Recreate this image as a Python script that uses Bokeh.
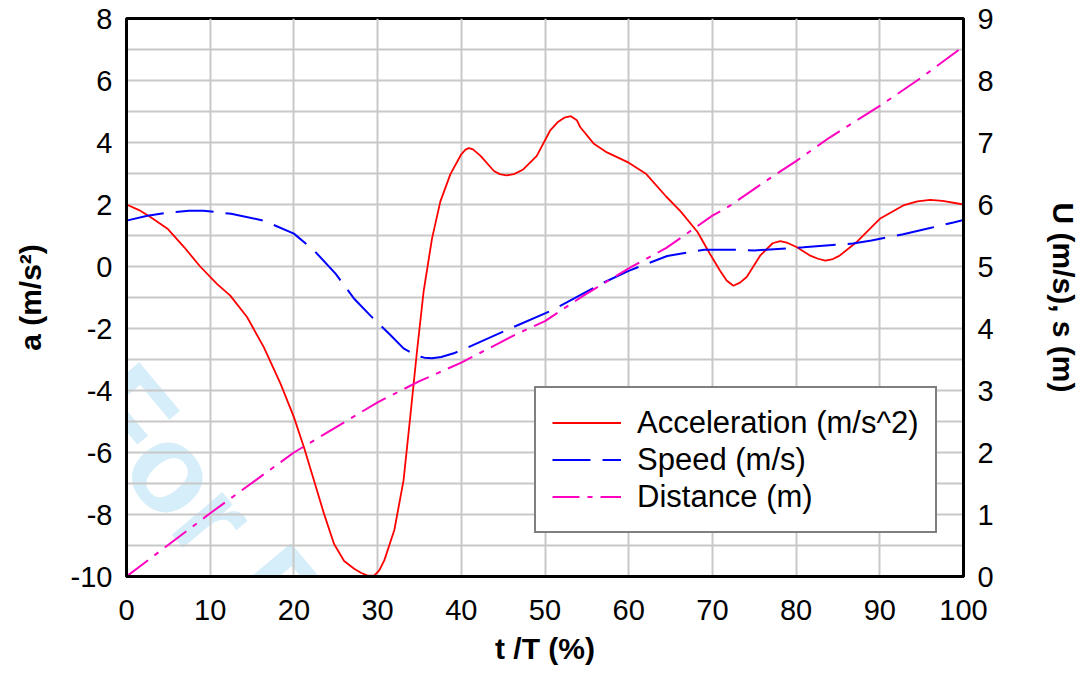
from bokeh.plotting import figure
from bokeh.models import (Range1d, LinearAxis, FixedTicker, Legend, LegendItem, Label,
                          PrintfTickFormatter)
from bokeh.embed import file_html
from bokeh.resources import INLINE

# ---- data ----
t_acc = [0, 1.5, 2.9, 4.9, 6.9, 8.8, 10.8, 12.4, 14.4, 16.4, 18.4, 20.0, 21.2, 22.4, 23.6,
         24.8, 26.0, 27.2, 28.0, 28.8, 29.6, 30.2, 30.8, 32.0, 33.1, 33.9, 34.7, 35.5, 36.5,
         37.5, 38.7, 40.0, 40.5, 40.9, 41.4, 42.3, 43.9, 44.6, 45.4, 46.3, 47.4, 49.0, 50.6,
         51.5, 52.3, 53.1, 53.8, 54.2, 55.8, 57.4, 60.0, 62.1, 64.5, 66.2, 68.2, 69.7, 70.9,
         71.7, 72.5, 73.3, 74.1, 75.7, 77.2, 78.1, 79.0, 80.1, 81.7, 82.6, 83.5, 84.4, 85.2,
         87.2, 90.0, 92.8, 94.5, 96.0, 97.5, 100]
acc = [2.0, 1.82, 1.59, 1.22, 0.62, 0.0, -0.56, -0.94, -1.63, -2.6, -3.78, -4.86, -5.83,
       -6.9, -7.98, -8.95, -9.5, -9.75, -9.88, -9.97, -9.97, -9.8, -9.48, -8.5, -6.9, -4.85,
       -2.75, -0.8, 0.9, 2.1, 2.98, 3.62, 3.77, 3.82, 3.78, 3.57, 3.08, 2.98, 2.94, 2.98,
       3.13, 3.56, 4.38, 4.65, 4.8, 4.85, 4.72, 4.5, 3.97, 3.68, 3.35, 2.98, 2.25, 1.78, 1.12,
       0.41, -0.13, -0.45, -0.62, -0.52, -0.34, 0.35, 0.75, 0.82, 0.76, 0.62, 0.35, 0.25, 0.19,
       0.24, 0.35, 0.78, 1.54, 1.97, 2.1, 2.15, 2.12, 2.0]

t_spd = [0, 2.5, 5, 7.5, 9.2, 12.5, 16.4, 20, 22.4, 25, 27.2, 29.2, 31.5, 33.1, 34.7, 35.6,
         36.5, 37.6, 39.1, 40.7, 45.0, 50.6, 52.6, 57.0, 60.0, 64.6, 69.0, 72.5, 75.0, 80.9,
         86.8, 89.0, 92.8, 96.0, 98.8, 100]
spd = [5.74, 5.82, 5.87, 5.9, 5.9, 5.85, 5.74, 5.53, 5.26, 4.88, 4.48, 4.2, 3.9, 3.68, 3.56,
       3.53, 3.52, 3.54, 3.6, 3.69, 3.95, 4.28, 4.42, 4.74, 4.93, 5.17, 5.27, 5.27, 5.26, 5.31,
       5.37, 5.42, 5.52, 5.62, 5.71, 5.75]

t_dist = [0, 10, 20, 30, 35, 40, 46.6, 50, 54.6, 60, 64.5, 70, 72.1, 76.5, 80, 84, 90, 95, 100]
dist = [0, 1.02, 2.0, 2.81, 3.15, 3.45, 3.91, 4.12, 4.53, 4.97, 5.3, 5.82, 5.98, 6.39, 6.70,
        7.08, 7.59, 8.05, 8.55]

x_ticks = list(range(0, 101, 10))
y_left_ticks = list(range(-10, 9, 2))
y_grid_ticks = list(range(-10, 9))
y_right_ticks = list(range(0, 10))

labels = ["Acceleration (m/s^2)", "Speed (m/s)", "Distance (m)"]
watermark = "For Peer Review"

FONT = "Liberation Sans"

p = figure(frame_width=837, frame_height=558,
           min_border_left=126, min_border_right=122, min_border_top=18, min_border_bottom=95,
           x_range=Range1d(0, 100), y_range=Range1d(-10, 8),
           output_backend="svg", toolbar_location=None)
p.extra_y_ranges = {"r": Range1d(0, 9)}
p.background_fill_color = "white"
p.border_fill_color = "white"
p.outline_line_color = "black"
p.outline_line_width = 3

# watermark underneath everything (rotated about its own centre)
wm = Label(x=34.35, y=-15.78, text=watermark, angle=-50, angle_units="deg",
           text_font=FONT, text_font_size="125px", text_font_style="bold",
           text_color="#d6eefa", text_align="center", text_baseline="middle",
           level="image")
p.add_layout(wm)

# axes
p.xaxis.ticker = FixedTicker(ticks=x_ticks)
p.yaxis.ticker = FixedTicker(ticks=y_left_ticks)
p.xgrid.ticker = FixedTicker(ticks=x_ticks)
p.ygrid.ticker = FixedTicker(ticks=y_grid_ticks)
for g in (p.xgrid, p.ygrid):
    g.grid_line_color = "#c8c8c8"
    g.grid_line_width = 2

ra = LinearAxis(y_range_name="r", ticker=FixedTicker(ticks=y_right_ticks))
p.add_layout(ra, "right")

p.xaxis.axis_label = "t /T (%)"
p.yaxis.axis_label = "a (m/s²)"
ra.axis_label = "U (m/s), s (m)"

for ax in (p.xaxis[0], p.yaxis[0], ra):
    ax.formatter = PrintfTickFormatter(format="%d")
    ax.axis_line_color = "black"
    ax.axis_line_width = 3
    ax.major_tick_in = 0
    ax.major_tick_out = 0
    ax.minor_tick_in = 0
    ax.minor_tick_out = 0
    ax.major_label_text_font = FONT
    ax.major_label_text_font_size = "29px"
    ax.major_label_text_color = "black"
    ax.axis_label_text_font = FONT
    ax.axis_label_text_font_size = "30px"
    ax.axis_label_text_font_style = "bold"
    ax.axis_label_text_color = "black"
    ax.major_label_standoff = 14

p.xaxis[0].major_label_standoff = 23
p.xaxis[0].axis_label_standoff = 9
p.yaxis[0].axis_label_standoff = 21
ra.axis_label_standoff = 50

r1 = p.line(t_acc, acc, line_color="#ff0000", line_width=1.8)
r2 = p.line(t_spd, spd, y_range_name="r", line_color="#0000ff", line_width=2,
            line_dash="38 12")
r3 = p.line(t_dist, dist, y_range_name="r", line_color="#ff00c0", line_width=2,
            line_dash="27 8 5 8")

legend = Legend(items=[LegendItem(label=labels[0], renderers=[r1]),
                       LegendItem(label=labels[1], renderers=[r2]),
                       LegendItem(label=labels[2], renderers=[r3])],
                location=(408, 43))
legend.border_line_color = "black"
legend.border_line_width = 2.5
legend.background_fill_color = "white"
legend.background_fill_alpha = 1
legend.label_text_font = FONT
legend.label_text_font_size = "31px"
legend.label_text_color = "black"
legend.glyph_width = 69
legend.glyph_height = 37
legend.label_height = 37
legend.label_standoff = 16
legend.padding = 16
legend.spacing = 0
legend.margin = 0
p.add_layout(legend)

open("out.html", "w").write(file_html(p, INLINE))
